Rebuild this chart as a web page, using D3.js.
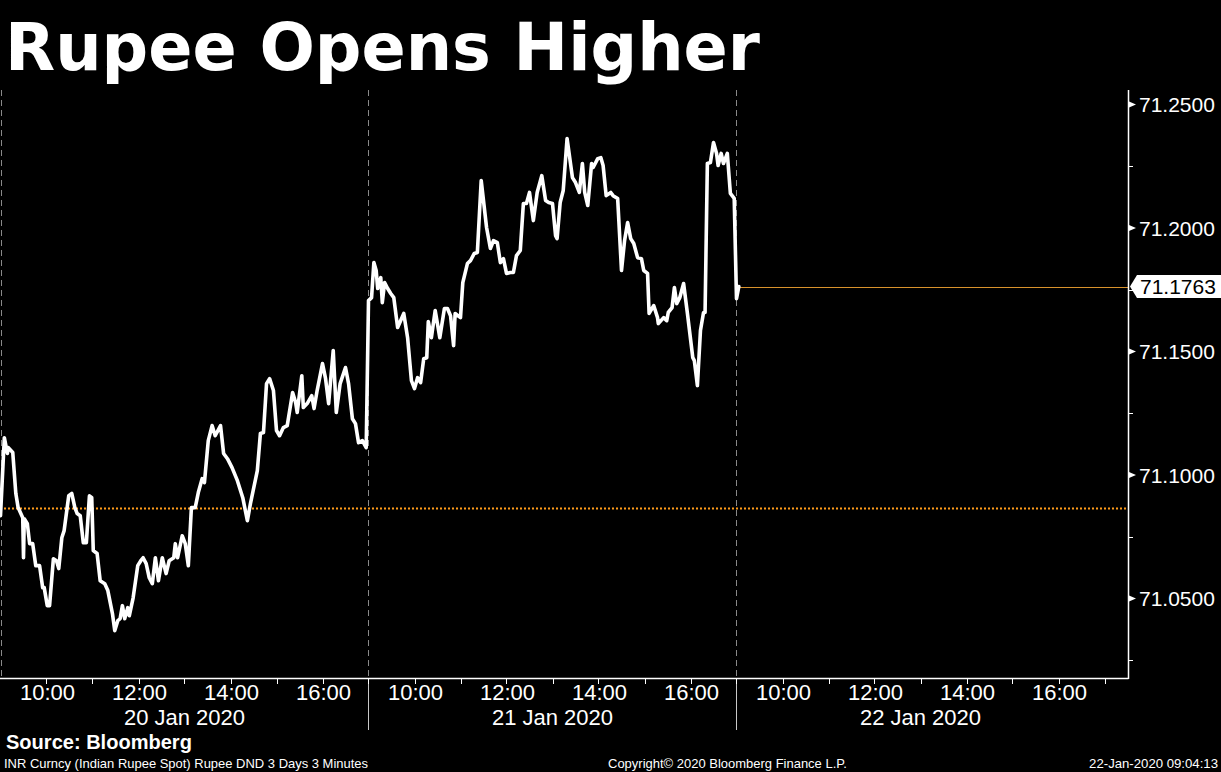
<!DOCTYPE html>
<html><head><meta charset="utf-8">
<script src="https://cdn.jsdelivr.net/npm/d3@7"></script>
<style>html,body{margin:0;padding:0;background:#000;overflow:hidden}</style>
</head><body>
<svg id="c" width="1221" height="772"></svg>
<script>
// ---------------- data ----------------
const title = "Rupee Opens Higher";
const dayLabels = ["20 Jan 2020", "21 Jan 2020", "22 Jan 2020"];
const hourTickLabels = ["10:00", "12:00", "14:00", "16:00"];
const yTickValues = [71.05, 71.10, 71.15, 71.20, 71.25];
const yMinorTickValues = [71.025, 71.075, 71.125, 71.175, 71.225];
const prevClose = 71.0864;
const lastValue = 71.1763;

const day1Times = ["09:00","09:05","09:09","09:10","09:16","09:20","09:23","09:29","09:30","09:31","09:35","09:38","09:42","09:46","09:51","09:55","09:57","10:01","10:04","10:09","10:13","10:16","10:20","10:23","10:29","10:33","10:37","10:40","10:44","10:48","10:52","10:56","10:59","11:01","11:06","11:10","11:16","11:20","11:26","11:29","11:33","11:36","11:39","11:42","11:46","11:48","11:53","11:59","12:03","12:06","12:10","12:14","12:18","12:22","12:26","12:31","12:36","12:40","12:46","12:48","12:51","12:57","13:01","13:05","13:09","13:14","13:18","13:23","13:26","13:31","13:36","13:40","13:47","13:51","13:56","14:02","14:09","14:16","14:22","14:26","14:35","14:39","14:43","14:47","14:51","14:56","15:00","15:04","15:09","15:14","15:21","15:25","15:27","15:33","15:35","15:40","15:46","15:49","15:53","16:00","16:04","16:08","16:14","16:18","16:23","16:30","16:34","16:39","16:43","16:47","16:52","16:57"];
const day1Values = [71.0835,71.1151,71.1087,71.1111,71.1091,71.0925,71.0868,71.0827,71.0665,71.0823,71.0803,71.0722,71.0722,71.0633,71.0633,71.0544,71.0544,71.0471,71.0471,71.0661,71.0653,71.0621,71.0746,71.0775,71.0916,71.0925,71.0868,71.0844,71.0835,71.0726,71.0726,71.0916,71.0908,71.0694,71.0682,71.0572,71.0560,71.0532,71.0439,71.0370,71.0410,71.0418,71.0471,71.0418,71.0463,71.0430,71.0503,71.0633,71.0653,71.0665,71.0641,71.0584,71.0560,71.0665,71.0572,71.0665,71.0601,71.0653,71.0665,71.0722,71.0665,71.0754,71.0722,71.0633,71.0868,71.0868,71.0929,71.0985,71.0969,71.1139,71.1200,71.1159,71.1200,71.1087,71.1066,71.1030,71.0977,71.0908,71.0815,71.0884,71.1018,71.1168,71.1172,71.1370,71.1390,71.1342,71.1180,71.1159,71.1192,71.1200,71.1334,71.1293,71.1253,71.1402,71.1273,71.1289,71.1321,71.1269,71.1342,71.1451,71.1390,71.1289,71.1504,71.1253,71.1370,71.1435,71.1370,71.1228,71.1208,71.1131,71.1139,71.1111];

const day2Times = ["09:00","09:04","09:07","09:10","09:12","09:16","09:18","09:21","09:25","09:29","09:33","09:38","09:46","09:51","09:56","10:00","10:04","10:08","10:12","10:16","10:18","10:22","10:27","10:33","10:39","10:43","10:47","10:51","10:53","11:00","11:03","11:09","11:13","11:18","11:22","11:27","11:34","11:39","11:43","11:48","11:52","11:56","12:00","12:05","12:09","12:13","12:18","12:22","12:26","12:30","12:35","12:40","12:46","12:51","12:55","13:00","13:04","13:06","13:10","13:14","13:19","13:26","13:30","13:35","13:39","13:42","13:46","13:51","13:53","13:59","14:03","14:06","14:10","14:16","14:19","14:25","14:30","14:34","14:38","14:42","14:46","14:51","14:56","14:59","15:04","15:06","15:12","15:17","15:18","15:25","15:29","15:31","15:36","15:39","15:42","15:46","15:51","15:56","16:03","16:05","16:09","16:13","16:17","16:19","16:22","16:26","16:30","16:34","16:36","16:40","16:43","16:48","16:52","16:57"];
const day2Values = [71.1706,71.1718,71.1860,71.1828,71.1755,71.1799,71.1698,71.1779,71.1755,71.1735,71.1718,71.1597,71.1654,71.1556,71.1382,71.1350,71.1394,71.1374,71.1471,71.1475,71.1621,71.1556,71.1666,71.1556,71.1674,71.1674,71.1645,71.1524,71.1654,71.1637,71.1779,71.1856,71.1868,71.1897,71.1901,71.2192,71.2002,71.1917,71.1949,71.1941,71.1860,71.1876,71.1816,71.1820,71.1820,71.1888,71.1909,71.2099,71.2099,71.2144,71.2030,71.2144,71.2212,71.2111,71.2103,71.2099,71.1969,71.1957,71.2103,71.2152,71.2362,71.2204,71.2184,71.2144,71.2261,71.2144,71.2091,71.2261,71.2245,71.2281,71.2285,71.2253,71.2131,71.2144,71.2131,71.2119,71.1828,71.1949,71.2022,71.1957,71.1937,71.1880,71.1876,71.1828,71.1816,71.1654,71.1686,71.1637,71.1613,71.1637,71.1625,71.1658,71.1678,71.1759,71.1694,71.1718,71.1775,71.1654,71.1475,71.1463,71.1362,71.1585,71.1658,71.1658,71.2261,71.2265,71.2346,71.2302,71.2253,71.2302,71.2261,71.2302,71.2140,71.2120];

const day3Times = ["09:00","09:03"];
const day3Values = [71.1714, 71.1763];

const sourceText = "Source: Bloomberg";
const tickerText = "INR Curncy (Indian Rupee Spot) Rupee DND 3 Days 3 Minutes";
const copyrightText = "Copyright\u00A9 2020 Bloomberg Finance L.P.";
const stampText = "22-Jan-2020 09:04:13";

// ---------------- layout ----------------
const W = 1221, H = 772;
const plotLeft = 0, plotRight = 1128, plotTop = 90, plotBottom = 678;
const sessionMin = 480; // 09:00 - 17:00
const svg = d3.select("#c");
svg.append("rect").attr("width", W).attr("height", H).attr("fill", "#000");

const toMin = (day, t) => { const [h, m] = t.split(":").map(Number); return day * sessionMin + (h - 9) * 60 + m; };
const x = d3.scaleLinear().domain([0, 3 * sessionMin]).range([plotLeft + 0.5, plotLeft + 0.5 + 1104]);
const y = d3.scaleLinear().domain([71.05, 71.25]).range([598.5, 104.5]);

const series = [];
[[day1Times, day1Values], [day2Times, day2Values], [day3Times, day3Values]].forEach(([ts, vs], d) => {
  ts.forEach((t, i) => series.push({ m: toMin(d, t), v: vs[i] }));
});

function fitText(sel, target) {
  const node = sel.node();
  const fs = parseFloat(sel.attr("font-size"));
  const w = node.getComputedTextLength();
  if (w > 0) sel.attr("font-size", (fs * target / w).toFixed(2));
}

// title
const t = svg.append("text").attr("x", 5).attr("y", 70).attr("fill", "#fff")
  .attr("font-family", "DejaVu Sans").attr("font-weight", "bold").attr("font-size", 65).text(title);
fitText(t, 755);

// day separators (dashed in plot)
const sepG = svg.append("g");
[0, 1, 2].forEach(d => {
  const xx = Math.round(x(d * sessionMin)) + 0.5;
  sepG.append("line").attr("x1", xx).attr("x2", xx).attr("y1", plotTop).attr("y2", plotBottom)
    .attr("stroke", "#8a8a8a").attr("stroke-width", 1).attr("stroke-dasharray", "6,4");
  if (d > 0) sepG.append("line").attr("x1", xx).attr("x2", xx).attr("y1", plotBottom).attr("y2", 730)
    .attr("stroke", "#c8c8c8").attr("stroke-width", 1);
});

// previous close dotted line
svg.append("line").attr("x1", plotLeft).attr("x2", plotRight).attr("y1", y(prevClose)).attr("y2", y(prevClose))
  .attr("stroke", "#ff9c1a").attr("stroke-width", 2).attr("stroke-dasharray", "2,2");

// last value line
const lastX = x(series[series.length - 1].m);
svg.append("line").attr("x1", lastX).attr("x2", plotRight).attr("y1", Math.round(y(lastValue)) + 0.5).attr("y2", Math.round(y(lastValue)) + 0.5)
  .attr("stroke", "#d8922c").attr("stroke-width", 1);

// price line
svg.append("path").datum(series)
  .attr("d", d3.line().x(d => x(d.m)).y(d => y(d.v)))
  .attr("fill", "none").attr("stroke", "#fff").attr("stroke-width", 3.6)
  .attr("stroke-linejoin", "round").attr("stroke-linecap", "round");

// axes frame
svg.append("line").attr("x1", plotLeft).attr("x2", plotRight + 0.5).attr("y1", plotBottom + 0.5).attr("y2", plotBottom + 0.5)
  .attr("stroke", "#fff").attr("stroke-width", 1.5);
svg.append("line").attr("x1", plotRight + 0.5).attr("x2", plotRight + 0.5).attr("y1", plotTop).attr("y2", plotBottom + 1)
  .attr("stroke", "#fff").attr("stroke-width", 1.5);

// y axis ticks
const yg = svg.append("g");
yTickValues.forEach(v => {
  const yy = y(v);
  yg.append("path").attr("d", `M${plotRight + 1},${yy - 3} L${plotRight + 8},${yy} L${plotRight + 1},${yy + 3} Z`).attr("fill", "#fff");
  yg.append("text").attr("x", 1139).attr("y", yy).attr("dy", "0.36em").attr("fill", "#fff")
    .attr("font-family", "Liberation Sans").attr("font-size", 21).text(v.toFixed(4));
});
yMinorTickValues.forEach(v => {
  const yy = Math.round(y(v)) + 0.5;
  yg.append("line").attr("x1", plotRight).attr("x2", plotRight + 5).attr("y1", yy).attr("y2", yy).attr("stroke", "#fff");
});

// last value label
const ly = y(lastValue);
yg.append("path").attr("d", `M1130,${ly} L1137,${ly - 11.5} L1221,${ly - 11.5} L1221,${ly + 11.5} L1137,${ly + 11.5} Z`).attr("fill", "#fff");
yg.append("text").attr("x", 1140).attr("y", ly).attr("dy", "0.36em").attr("fill", "#000")
  .attr("font-family", "Liberation Sans").attr("font-size", 21).text(lastValue.toFixed(4));

// x axis ticks and labels
const xg = svg.append("g");
[0, 1, 2].forEach(d => {
  for (let h = 10; h <= 17; h++) {
    const xx = Math.round(x(d * sessionMin + (h - 9) * 60)) + 0.5;
    xg.append("line").attr("x1", xx).attr("x2", xx).attr("y1", plotBottom).attr("y2", plotBottom + 6).attr("stroke", "#fff");
  }
  hourTickLabels.forEach(lbl => {
    const xx = x(toMin(d, lbl)) + 1;
    xg.append("text").attr("x", xx).attr("y", 700).attr("text-anchor", "middle").attr("fill", "#fff")
      .attr("font-family", "Liberation Sans").attr("font-size", 22).text(lbl);
  });
  xg.append("text").attr("x", x(d * sessionMin + sessionMin / 2)).attr("y", 725).attr("text-anchor", "middle").attr("fill", "#fff")
    .attr("font-family", "Liberation Sans").attr("font-size", 22).text(dayLabels[d]);
});

// footer
const s1 = svg.append("text").attr("x", 6).attr("y", 749).attr("fill", "#fff")
  .attr("font-family", "Liberation Sans").attr("font-weight", "bold").attr("font-size", 20).text(sourceText);
fitText(s1, 186);
const s2 = svg.append("text").attr("x", 4).attr("y", 768).attr("fill", "#fff")
  .attr("font-family", "Liberation Sans").attr("font-size", 13).text(tickerText);
fitText(s2, 364);
const s3 = svg.append("text").attr("x", 608).attr("y", 768).attr("fill", "#fff")
  .attr("font-family", "Liberation Sans").attr("font-size", 13).text(copyrightText);
fitText(s3, 239);
const s4 = svg.append("text").attr("x", 1218).attr("y", 768).attr("text-anchor", "end").attr("fill", "#fff")
  .attr("font-family", "Liberation Sans").attr("font-size", 13).text(stampText);
fitText(s4, 129);
</script>
</body></html>
